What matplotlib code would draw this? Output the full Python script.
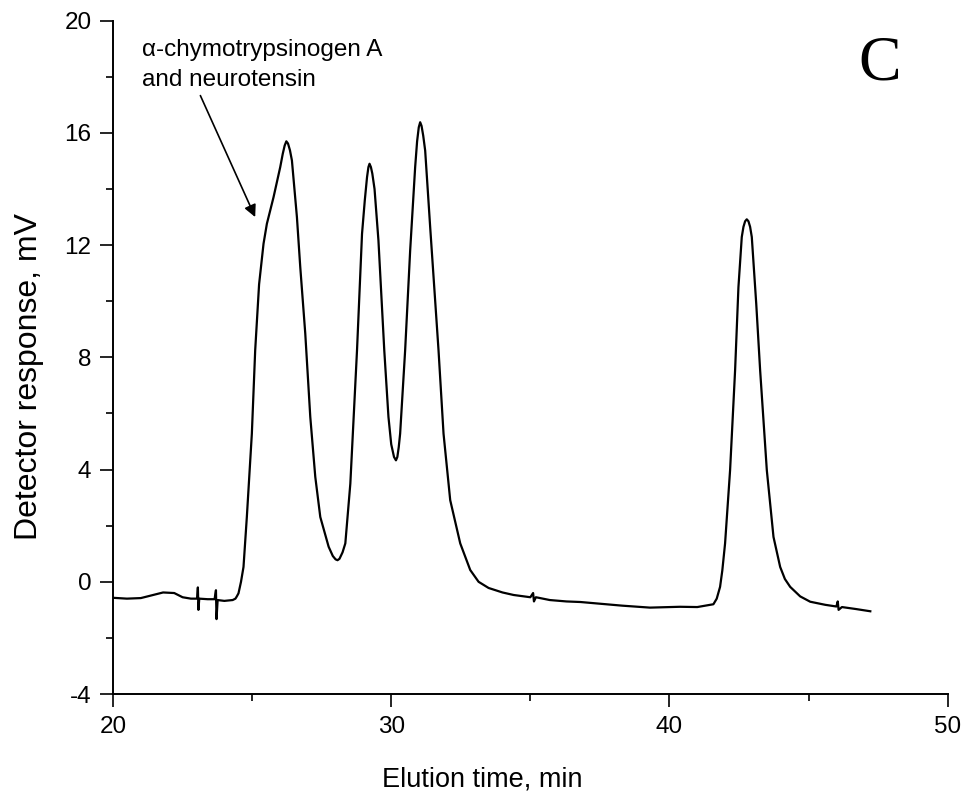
import numpy as np
import matplotlib
matplotlib.use("Agg")
from matplotlib import pyplot as plt

plt.rcParams['font.family'] = ['Liberation Sans', 'DejaVu Sans']
plt.rcParams['axes.unicode_minus'] = False

tiempo = [20.0, 20.5, 21.0, 21.4, 21.8, 22.2, 22.5, 22.8, 23.02, 23.05, 23.07, 23.10,
          23.4, 23.65, 23.70, 23.72, 23.76, 24.0, 24.3, 24.4, 24.45, 24.51, 24.6, 24.69,
          24.81, 24.99, 25.11, 25.25, 25.41, 25.53, 25.77, 26.01, 26.10, 26.17, 26.23,
          26.29, 26.36, 26.43, 26.61, 26.73, 26.91, 27.09, 27.27, 27.45, 27.75, 27.9,
          28.0, 28.07, 28.14, 28.25, 28.35, 28.53, 28.65, 28.77, 28.95, 29.05, 29.13,
          29.18, 29.22, 29.27, 29.32, 29.40, 29.54, 29.75, 29.90, 30.0, 30.1, 30.17,
          30.22, 30.27, 30.32, 30.50, 30.68, 30.86, 30.93, 30.99, 31.04, 31.09, 31.15,
          31.22, 31.40, 31.70, 31.88, 32.12, 32.48, 32.84, 33.14, 33.5, 34.0, 34.4, 35.0,
          35.10, 35.13, 35.2, 35.7, 36.3, 36.8, 37.5, 38.3, 39.3, 40.38, 41.0, 41.58,
          41.7, 41.82, 41.9, 42.0, 42.18, 42.36, 42.48, 42.60, 42.66, 42.72, 42.78,
          42.84, 42.90, 42.96, 43.12, 43.26, 43.50, 43.74, 43.98, 44.15, 44.34, 44.7,
          45.06, 45.6, 46.0, 46.05, 46.08, 46.2, 46.7, 47.22]
respuesta = [-0.57, -0.60, -0.58, -0.48, -0.38, -0.40, -0.55, -0.60, -0.60, -0.20, -1.00, -0.60,
             -0.62, -0.62, -0.30, -1.33, -0.65, -0.68, -0.65, -0.60, -0.52, -0.41, 0.0, 0.53,
             2.31, 5.28, 8.25, 10.6, 12.05, 12.76, 13.71, 14.78, 15.25, 15.55, 15.70,
             15.62, 15.38, 15.02, 13.0, 11.22, 8.85, 5.88, 3.74, 2.31, 1.25, 0.92,
             0.80, 0.77, 0.82, 1.05, 1.37, 3.5, 5.88, 8.25, 12.4, 13.6, 14.42,
             14.78, 14.9, 14.78, 14.55, 14.0, 12.17, 8.25, 5.88, 4.9, 4.45, 4.33,
             4.45, 4.8, 5.28, 8.25, 11.8, 14.78, 15.7, 16.2, 16.38, 16.25, 15.9,
             15.37, 12.64, 8.25, 5.28, 2.91, 1.37, 0.42, 0.0, -0.22, -0.38, -0.47, -0.55,
             -0.40, -0.70, -0.55, -0.65, -0.70, -0.72, -0.78, -0.85, -0.92, -0.89, -0.90, -0.80,
             -0.60, -0.18, 0.4, 1.37, 3.98, 7.54, 10.5, 12.29, 12.65, 12.85, 12.92,
             12.85, 12.65, 12.29, 9.91, 7.54, 3.98, 1.6, 0.53, 0.1, -0.18, -0.52,
             -0.71, -0.82, -0.88, -0.70, -1.0, -0.90, -0.97, -1.05]

xticks_may = [20, 30, 40, 50]
yticks_may = [-4, 0, 4, 8, 12, 16, 20]

fig = plt.figure(figsize=(9.66, 7.95), dpi=100)
ax = fig.add_axes([0.117, 0.127, 0.864, 0.847])

ax.plot(tiempo, respuesta, color='black', linewidth=1.6)

ax.set_xlim(20, 50)
ax.set_ylim(-4, 20)
ax.set_xticks(xticks_may)
ax.set_xticks([25, 35, 45], minor=True)
ax.set_yticks(yticks_may)
ax.set_yticks([-2, 2, 6, 10, 14, 18], minor=True)

for lado in ['top', 'right']:
    ax.spines[lado].set_visible(False)
for lado in ['left', 'bottom']:
    ax.spines[lado].set_linewidth(1.4)

ax.tick_params(which='major', direction='out', length=9.5, width=1.2, labelsize=17.5, pad=6)
ax.tick_params(which='minor', direction='out', length=5, width=1.2)

ax.set_xlabel("Elution time, min", fontsize=19.5)
ax.xaxis.set_label_coords(0.442, -0.108)
ax.set_ylabel("Detector response, mV", fontsize=23)
ax.yaxis.set_label_coords(-0.083, 0.471)

# anotacion con flecha hacia el hombro del primer pico
ax.text(21.04, 19.35, "α-chymotrypsinogen A\nand neurotensin", fontsize=17.5,
        ha='left', va='top', linespacing=1.5)
ax.annotate("", xy=(25.11, 13.0), xytext=(23.14, 17.33),
            arrowprops=dict(arrowstyle='-|>', color='black', lw=1.2, mutation_scale=18,
                            shrinkA=0, shrinkB=0))

ax.text(47.57, 18.45, "C", fontsize=46, family='Liberation Serif', ha='center', va='center')

fig.savefig("out.png", dpi=100)
